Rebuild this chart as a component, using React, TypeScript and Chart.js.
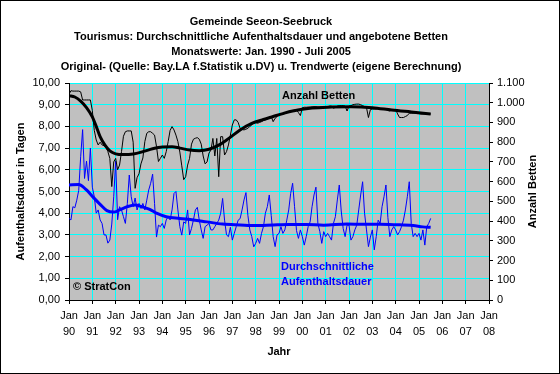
import React, { useEffect, useRef } from 'react';
import { Chart, registerables } from 'chart.js';

Chart.register(...registerables);

const titleLines = [
  'Gemeinde Seeon-Seebruck',
  'Tourismus: Durchschnittliche Aufenthaltsdauer und angebotene Betten',
  'Monatswerte: Jan. 1990 - Juli 2005',
  'Original- (Quelle: Bay.LA f.Statistik u.DV) u. Trendwerte (eigene Berechnung)',
];
const leftAxisTitle = 'Aufenthaltsdauer in Tagen';
const rightAxisTitle = 'Anzahl Betten';
const xAxisTitle = 'Jahr';
const bedsLabel = 'Anzahl Betten';
const stayLabel = ['Durchschnittliche', 'Aufenthaltsdauer'];
const copyrightLabel = '© StratCon';

const monthLabel = 'Jan';
const yearLabels = ['90', '91', '92', '93', '94', '95', '96', '97', '98', '99', '00', '01', '02', '03', '04', '05', '06', '07', '08'];

// Monthly values Jan 1990 .. Jul 2005 (index = months since Jan 1990)
const stayMonthly = [
  3.76, 3.69, 4.30, 4.25, 4.60, 5.05, 6.60, 7.85, 5.60, 6.40, 5.50, 7.00,
  5.20, 4.76, 4.00, 4.15, 3.69, 3.53, 3.00, 3.00, 2.62, 2.76, 3.50, 4.76,
  6.40, 3.70, 4.30, 4.15, 3.84, 3.53, 4.45, 5.76, 4.76, 4.30, 4.70, 4.15,
  4.45, 4.22, 4.45, 4.15, 4.60, 5.07, 5.38, 5.80, 4.45, 2.90, 3.45, 3.38,
  3.53, 3.30, 3.69, 3.84, 3.69, 4.15, 4.91, 5.00, 4.15, 3.38, 2.99, 3.60,
  3.53, 4.15, 3.00, 3.30, 3.69, 4.15, 4.27, 3.68, 3.23, 2.84, 3.38, 3.45,
  3.53, 3.23, 3.23, 3.38, 3.53, 3.68, 4.00, 4.68, 3.68, 3.00, 2.92, 3.35,
  2.76, 3.07, 3.38, 3.68, 3.75, 4.15, 4.61, 4.95, 3.90, 3.23, 2.92, 2.45,
  2.61, 2.84, 2.61, 3.07, 3.38, 4.00, 4.30, 4.84, 3.90, 2.92, 2.46, 3.00,
  3.07, 3.38, 3.07, 3.23, 3.68, 4.15, 4.91, 5.38, 4.30, 3.20, 2.84, 3.23,
  2.92, 2.53, 2.92, 3.38, 3.60, 4.30, 4.84, 5.20, 3.53, 3.15, 2.61, 3.15,
  2.92, 3.07, 2.92, 2.76, 3.53, 3.84, 4.61, 5.30, 4.10, 3.30, 2.92, 3.45,
  3.45, 2.76, 2.92, 3.23, 3.45, 4.15, 4.84, 5.45, 4.00, 3.23, 2.46, 2.90,
  3.23, 2.31, 2.92, 3.68, 3.53, 4.30, 4.76, 5.30, 3.80, 2.92, 3.23, 3.38,
  3.23, 3.00, 3.15, 3.38, 3.68, 4.15, 4.76, 5.45, 3.53, 2.92, 3.07, 2.92,
  3.07, 2.76, 3.23, 2.53, 3.38, 3.53, 3.76,
];

const bedsMonthly = [
  1043, 1061, 1059, 1059, 1059, 1059, 1055, 1014, 1014, 1014, 1014, 1014,
  960, 860, 811, 786, 800, 786, 782, 778, 752, 718, 575, 700,
  718, 660, 684, 752, 830, 853, 857, 857, 857, 800, 566, 620,
  640, 690, 720, 803, 845, 853, 853, 845, 836, 778, 702, 718,
  735, 718, 752, 803, 860, 879, 862, 836, 803, 750, 680, 610,
  625, 684, 718, 790, 815, 820, 823, 815, 790, 730, 690, 700,
  745, 760, 819, 730, 819, 625, 828, 828, 735, 752, 786, 836,
  887, 913, 913, 900, 870, 865, 862, 866, 870, 880, 887, 900,
  900, 896, 900, 904, 910, 913, 918, 925, 930, 904, 921, 930,
  940, 946, 941, 945, 950, 955, 958, 960, 962, 963, 950, 935,
  975, 977, 977, 978, 978, 979, 980, 980, 978, 978, 980, 980,
  980, 980, 983, 983, 972, 977, 983, 985, 985, 985, 983, 958,
  983, 985, 990, 992, 993, 993, 990, 985, 980, 975, 925, 965,
  968, 968, 968, 970, 970, 970, 968, 966, 960, 958, 963, 965,
  966, 943, 925, 925, 925, 930, 935, 947, 947, 947, 947, 945,
  945, 943, 943, 943, 943, 943, 943,
];

// Trend values (own calculation), read at selected months
const stayTrendMonths = [0, 5, 9, 12.5, 16, 19.5, 23, 26, 30, 34, 37.5, 41.5, 45, 50, 57, 64, 71, 79, 88, 96, 105, 113, 122, 131, 143, 151, 160, 168, 177, 182, 186];
const stayTrendValues = [5.30, 5.32, 5.07, 4.73, 4.41, 4.12, 4.05, 4.15, 4.30, 4.38, 4.30, 4.18, 4.00, 3.84, 3.76, 3.69, 3.60, 3.50, 3.46, 3.43, 3.46, 3.48, 3.48, 3.45, 3.50, 3.49, 3.49, 3.47, 3.43, 3.37, 3.35];

const bedsTrendMonths = [0, 3, 6, 9, 12, 14, 16, 18.5, 21, 24, 28, 33, 38, 43, 48, 53, 57, 62, 67, 72, 77, 82, 88, 94, 100, 105, 110, 115, 125, 135, 145, 156, 166, 176, 186];
const bedsTrendValues = [1036, 1029, 1008, 975, 928, 880, 828, 785, 756, 741, 737, 740, 752, 767, 776, 777, 770, 760, 757, 764, 785, 818, 862, 895, 915, 930, 945, 958, 973, 978, 980, 975, 963, 953, 943];

const FONT = "'Liberation Sans', Arial, sans-serif";

const decorPlugin = {
  id: 'decor',
  beforeDraw(chart: any) {
    const { ctx, chartArea: a, width, height } = chart;
    ctx.save();
    ctx.fillStyle = '#FFFFFF';
    ctx.fillRect(0, 0, width, height);
    ctx.fillStyle = '#C0C0C0';
    ctx.fillRect(a.left, a.top, a.right - a.left, a.bottom - a.top);
    ctx.restore();
  },
  afterDraw(chart: any) {
    const { ctx, chartArea: a, width, height } = chart;
    ctx.save();
    ctx.strokeStyle = '#000000';
    ctx.lineWidth = 1;
    ctx.strokeRect(0.5, 0.5, width - 1, height - 1);

    ctx.font = `bold 11px ${FONT}`;
    ctx.fillStyle = '#000000';
    ctx.textAlign = 'center';
    ctx.textBaseline = 'middle';
    titleLines.forEach((t, i) => ctx.fillText(t, 261, 22 + i * 15));

    const midY = (a.top + a.bottom) / 2;
    ctx.save();
    ctx.translate(21, midY);
    ctx.rotate(-Math.PI / 2);
    ctx.fillText(leftAxisTitle, 0, 0);
    ctx.restore();
    ctx.save();
    ctx.translate(533, midY);
    ctx.rotate(-Math.PI / 2);
    ctx.fillText(rightAxisTitle, 0, 0);
    ctx.restore();
    ctx.fillText(xAxisTitle, (a.left + a.right) / 2, 352);

    ctx.textAlign = 'left';
    ctx.fillText(bedsLabel, 282, 96);
    ctx.fillText(copyrightLabel, 73, 287);
    ctx.fillStyle = '#0000FF';
    ctx.fillText(stayLabel[0], 281, 267);
    ctx.fillText(stayLabel[1], 281, 282);
    ctx.restore();
  },
};

export default function App() {
  const ref = useRef<HTMLCanvasElement>(null);

  useEffect(() => {
    document.body.style.margin = '0';
    const canvas = ref.current;
    if (!canvas) return;

    const stay = stayMonthly.map((v, i) => ({ x: i, y: v }));
    const beds = bedsMonthly.map((v, i) => ({ x: i, y: v }));
    const stayTrend = stayTrendMonths.map((m, i) => ({ x: m, y: stayTrendValues[i] }));
    const bedsTrend = bedsTrendMonths.map((m, i) => ({ x: m, y: bedsTrendValues[i] }));

    const tickFont = { family: FONT, size: 11 };

    const chart = new Chart(canvas, {
      type: 'line',
      data: {
        datasets: [
          { label: 'Trend Betten', data: bedsTrend, yAxisID: 'yBeds', borderColor: '#000000', borderWidth: 3, pointRadius: 0, cubicInterpolationMode: 'monotone', order: 0 },
          { label: 'Betten', data: beds, yAxisID: 'yBeds', borderColor: '#000000', borderWidth: 1, pointRadius: 0, tension: 0, order: 1 },
          { label: 'Trend Aufenthaltsdauer', data: stayTrend, yAxisID: 'yStay', borderColor: '#0000FF', borderWidth: 3, pointRadius: 0, cubicInterpolationMode: 'monotone', order: 2 },
          { label: 'Aufenthaltsdauer', data: stay, yAxisID: 'yStay', borderColor: '#0000FF', borderWidth: 1, pointRadius: 0, tension: 0, order: 3 },
        ],
      },
      options: {
        responsive: false,
        animation: false,
        devicePixelRatio: 1,
        layout: { padding: { top: 83, left: 0, right: 0, bottom: 0 } },
        plugins: {
          legend: { display: false },
          title: { display: false },
          tooltip: { enabled: false },
        },
        scales: {
          x: {
            type: 'linear',
            min: 0,
            max: (yearLabels.length - 1) * 12,
            afterFit: (s: any) => { s.height = 74; },
            ticks: {
              stepSize: 12,
              autoSkip: false,
              maxRotation: 0,
              minRotation: 0,
              color: '#000000',
              padding: 4,
              font: { ...tickFont, lineHeight: 16 / 11 },
              callback: (v: any) => [monthLabel, yearLabels[Math.round(Number(v) / 12)]],
            },
            grid: { color: '#00FFFF', tickColor: '#000000', tickLength: 4, lineWidth: 1 },
            border: { color: '#000000' },
          },
          yStay: {
            type: 'linear',
            position: 'left',
            min: 0,
            max: 10,
            afterFit: (s: any) => { s.width = 69; },
            ticks: {
              stepSize: 1,
              color: '#000000',
              padding: 5,
              font: tickFont,
              callback: (v: any) => Number(v).toFixed(2).replace('.', ','),
            },
            grid: { color: '#00FFFF', tickColor: '#000000', tickLength: 4, lineWidth: 1 },
            border: { color: '#000000' },
          },
          yBeds: {
            type: 'linear',
            position: 'right',
            min: 0,
            max: 1100,
            afterFit: (s: any) => { s.width = 71; },
            ticks: {
              stepSize: 100,
              color: '#000000',
              padding: 4,
              font: tickFont,
              callback: (v: any) => String(Math.round(Number(v))).replace(/\B(?=(\d{3})+(?!\d))/g, '.'),
            },
            grid: { drawOnChartArea: false, tickColor: '#000000', tickLength: 4, lineWidth: 1 },
            border: { color: '#000000' },
          },
        },
      },
      plugins: [decorPlugin],
    } as any);

    return () => chart.destroy();
  }, []);

  return (
    <div style={{ width: 560, height: 374 }}>
      <canvas ref={ref} width={560} height={374} style={{ display: 'block', width: 560, height: 374 }} />
    </div>
  );
}
